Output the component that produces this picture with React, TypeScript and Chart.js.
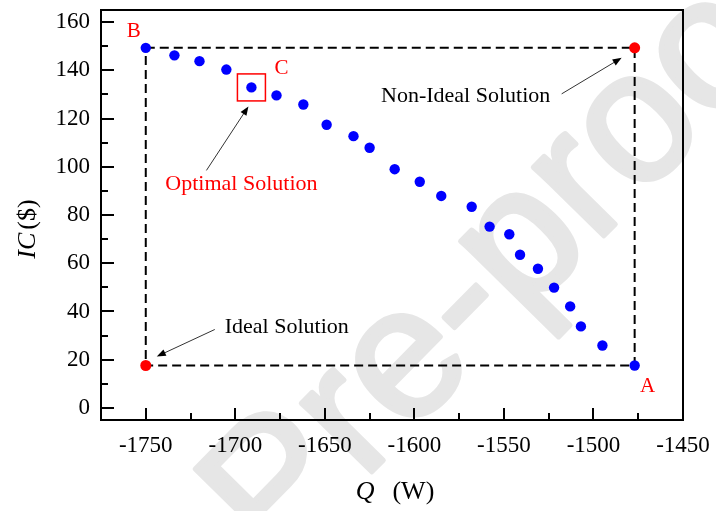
import { useEffect, useRef } from 'react';
import { Chart, registerables } from 'chart.js';

Chart.register(...registerables);

const SERIF = '"Liberation Serif", "Times New Roman", Times, serif';
const SANS = '"Liberation Sans", Arial, Helvetica, sans-serif';

// Pareto front: heat load Q (W) against investment cost IC ($)
const heatLoad = [
  -1750, -1734, -1720, -1705, -1691, -1677, -1662, -1649, -1634, -1625, -1611, -1597,
  -1585, -1568, -1558, -1547, -1541, -1531, -1522, -1513, -1507, -1495, -1477,
];
const investCost = [
  149.3, 146.2, 143.8, 140.3, 132.9, 129.6, 125.8, 117.4, 112.7, 107.9, 99.0, 93.8,
  87.9, 83.4, 75.2, 72.0, 63.5, 57.7, 49.9, 42.1, 33.8, 25.9, 17.6,
];

// Reference solutions (TOPSIS style)
const idealPoint = [-1750, 17.6];
const nonIdealPoint = [-1477, 149.3];
const optimalIndex = 4;

// Axis ticks
const xTicks = [-1750, -1700, -1650, -1600, -1550, -1500, -1450];
const xMinorTicks = [-1725, -1675, -1625, -1575, -1525, -1475];
const yTicks = [0, 20, 40, 60, 80, 100, 120, 140, 160];
const yMinorTicks = [10, 30, 50, 70, 90, 110, 130, 150];

const xRange = [-1775, -1450];
const yRange = [-5, 165];

function drawArrow(ctx: CanvasRenderingContext2D, x1: number, y1: number, x2: number, y2: number) {
  const ang = Math.atan2(y2 - y1, x2 - x1);
  const len = 9;
  const half = 3.5;
  const cos = Math.cos(ang);
  const sin = Math.sin(ang);
  ctx.beginPath();
  ctx.moveTo(x1, y1);
  ctx.lineTo(x2 - len * cos * 0.8, y2 - len * sin * 0.8);
  ctx.strokeStyle = '#333';
  ctx.lineWidth = 1;
  ctx.stroke();
  ctx.beginPath();
  ctx.moveTo(x2, y2);
  ctx.lineTo(x2 - len * cos + half * sin, y2 - len * sin - half * cos);
  ctx.lineTo(x2 - len * cos - half * sin, y2 - len * sin + half * cos);
  ctx.closePath();
  ctx.fillStyle = '#000';
  ctx.fill();
}

function drawLabel(ctx: CanvasRenderingContext2D, text: string, x: number, y: number, color: string, size: number) {
  ctx.font = `${size}px ${SERIF}`;
  ctx.fillStyle = color;
  ctx.textAlign = 'center';
  ctx.textBaseline = 'middle';
  ctx.fillText(text, x, y);
}

const watermark = {
  id: 'watermark',
  beforeDraw(chart: Chart) {
    const ctx = chart.ctx;
    ctx.save();
    ctx.translate(511, 257);
    ctx.rotate((-45.5 * Math.PI) / 180);
    ctx.font = `186px ${SANS}`;
    ctx.fillStyle = '#e6e6e6';
    ctx.strokeStyle = '#e6e6e6';
    ctx.lineWidth = 5;
    ctx.lineJoin = 'round';
    ctx.textAlign = 'center';
    ctx.textBaseline = 'middle';
    ctx.fillText('Pre-proof', 0, 0);
    ctx.strokeText('Pre-proof', 0, 0);
    ctx.restore();
  },
};

const frameAndTicks = {
  id: 'frameAndTicks',
  beforeDatasetsDraw(chart: Chart) {
    const { ctx, chartArea: a } = chart;
    const x = chart.scales.x;
    const y = chart.scales.y;
    ctx.save();
    ctx.strokeStyle = '#000';
    ctx.lineWidth = 2;
    ctx.strokeRect(a.left, a.top, a.right - a.left, a.bottom - a.top);
    ctx.beginPath();
    const xMark = (v: number, len: number) => {
      const px = Math.round(x.getPixelForValue(v));
      if (px <= a.left + 1 || px >= a.right - 1) return;
      ctx.moveTo(px, a.bottom);
      ctx.lineTo(px, a.bottom - len);
    };
    const yMark = (v: number, len: number) => {
      const py = Math.round(y.getPixelForValue(v));
      if (py <= a.top + 1 || py >= a.bottom - 1) return;
      ctx.moveTo(a.left, py);
      ctx.lineTo(a.left + len, py);
    };
    xTicks.forEach((v) => xMark(v, 12));
    xMinorTicks.forEach((v) => xMark(v, 7));
    yTicks.forEach((v) => yMark(v, 13));
    yMinorTicks.forEach((v) => yMark(v, 7));
    ctx.stroke();
    ctx.restore();
  },
};

const annotations = {
  id: 'annotations',
  afterDatasetsDraw(chart: Chart) {
    const ctx = chart.ctx;
    const x = chart.scales.x;
    const y = chart.scales.y;
    const at = (q: number, ic: number) => [x.getPixelForValue(q), y.getPixelForValue(ic)];
    const last = heatLoad.length - 1;
    const [bx, by] = at(heatLoad[0], investCost[0]);
    const [ax, ay] = at(heatLoad[last], investCost[last]);
    const [cx, cy] = at(heatLoad[optimalIndex], investCost[optimalIndex]);
    const [ix, iy] = at(idealPoint[0], idealPoint[1]);
    const [nx, ny] = at(nonIdealPoint[0], nonIdealPoint[1]);

    ctx.save();
    // box around the chosen solution
    ctx.strokeStyle = '#ff0000';
    ctx.lineWidth = 1.5;
    ctx.strokeRect(cx - 14, cy - 13.5, 28, 27);

    drawArrow(ctx, cx - 45, cy + 83, cx - 3, cy + 19);
    drawArrow(ctx, nx - 73, ny + 46, nx - 13, ny + 10);
    drawArrow(ctx, ix + 69, iy - 36, ix + 11, iy - 9);

    drawLabel(ctx, 'Optimal Solution', cx - 10, cy + 97, '#ff0000', 22);
    drawLabel(ctx, 'Non-Ideal Solution', nx - 169, ny + 48, '#000', 22);
    drawLabel(ctx, 'Ideal Solution', ix + 141, iy - 38, '#000', 22);

    drawLabel(ctx, 'B', bx - 12, by - 16, '#ff0000', 21);
    drawLabel(ctx, 'C', cx + 30, cy - 19, '#ff0000', 21);
    drawLabel(ctx, 'A', ax + 13, ay + 21, '#ff0000', 21);
    ctx.restore();
  },
};

const axisTitles = {
  id: 'axisTitles',
  afterDraw(chart: Chart) {
    const ctx = chart.ctx;
    const a = chart.chartArea;
    const size = 26;
    const italic = `italic ${size}px ${SERIF}`;
    const upright = `${size}px ${SERIF}`;
    ctx.save();
    ctx.fillStyle = '#000';
    ctx.textBaseline = 'middle';
    ctx.textAlign = 'left';

    // x title: Q (W)
    ctx.font = italic;
    const qW = ctx.measureText('Q').width;
    ctx.font = upright;
    const wW = ctx.measureText('(W)').width;
    const gap = 18;
    const xStart = (a.left + a.right) / 2 + 3 - (qW + gap + wW) / 2;
    ctx.font = italic;
    ctx.fillText('Q', xStart, 492);
    ctx.font = upright;
    ctx.fillText('(W)', xStart + qW + gap, 492);

    // y title: IC ($)
    ctx.translate(28, 229);
    ctx.rotate(-Math.PI / 2);
    ctx.font = italic;
    const icW = ctx.measureText('IC').width;
    ctx.font = upright;
    const dW = ctx.measureText('($)').width;
    const g2 = 3;
    const start = -(icW + g2 + dW) / 2;
    ctx.font = italic;
    ctx.fillText('IC', start, 0);
    ctx.font = upright;
    ctx.fillText('($)', start + icW + g2, 0);
    ctx.restore();
  },
};

export default function App() {
  const canvasRef = useRef<HTMLCanvasElement>(null);

  useEffect(() => {
    document.body.style.margin = '0';
    const canvas = canvasRef.current;
    if (!canvas) return;

    const front = heatLoad.map((q, i) => ({ x: q, y: investCost[i] }));
    const refs = [
      { x: idealPoint[0], y: idealPoint[1] },
      { x: nonIdealPoint[0], y: nonIdealPoint[1] },
    ];
    const last = heatLoad.length - 1;
    const box = [
      { x: heatLoad[0], y: investCost[0] },
      { x: nonIdealPoint[0], y: nonIdealPoint[1] },
      { x: heatLoad[last], y: investCost[last] },
      { x: idealPoint[0], y: idealPoint[1] },
      { x: heatLoad[0], y: investCost[0] },
    ];

    const chart = new Chart(canvas, {
      type: 'scatter',
      data: {
        datasets: [
          {
            label: 'Pareto front',
            data: front,
            backgroundColor: '#0000ff',
            borderWidth: 0,
            pointRadius: 5.2,
            order: 0,
          },
          {
            label: 'Ideal / non-ideal',
            data: refs,
            backgroundColor: '#ff0000',
            borderWidth: 0,
            pointRadius: 5.5,
            order: 0,
          },
          {
            label: 'Bounds',
            data: box,
            showLine: true,
            borderColor: '#000',
            borderWidth: 2,
            borderDash: [9, 5],
            pointRadius: 0,
            fill: false,
            order: 5,
          },
        ],
      },
      options: {
        responsive: false,
        animation: false,
        devicePixelRatio: 1,
        layout: { padding: { left: 0, top: 10, right: 33, bottom: 0 } },
        plugins: {
          legend: { display: false },
          tooltip: { enabled: false },
        },
        scales: {
          x: {
            type: 'linear',
            min: xRange[0],
            max: xRange[1],
            grid: { display: false, drawTicks: false },
            border: { display: false },
            afterBuildTicks: (s: any) => {
              s.ticks = xTicks.map((v) => ({ value: v }));
            },
            afterFit: (s: any) => {
              s.height = 91;
              s.paddingLeft = 0;
              s.paddingRight = 0;
            },
            ticks: {
              color: '#000',
              padding: 12,
              maxRotation: 0,
              autoSkip: false,
              font: { family: SERIF, size: 23 },
              callback: (v: any) => String(v),
            },
          },
          y: {
            type: 'linear',
            min: yRange[0],
            max: yRange[1],
            grid: { display: false, drawTicks: false },
            border: { display: false },
            afterBuildTicks: (s: any) => {
              s.ticks = yTicks.map((v) => ({ value: v }));
            },
            afterFit: (s: any) => {
              s.width = 101;
              s.paddingTop = 0;
              s.paddingBottom = 0;
            },
            ticks: {
              color: '#000',
              padding: 11,
              autoSkip: false,
              font: { family: SERIF, size: 23 },
              callback: (v: any) => String(v),
            },
          },
        },
      },
      plugins: [watermark, frameAndTicks, annotations, axisTitles],
    });

    return () => chart.destroy();
  }, []);

  return (
    <div style={{ width: 716, height: 511 }}>
      <canvas ref={canvasRef} width={716} height={511} style={{ display: 'block' }} />
    </div>
  );
}
